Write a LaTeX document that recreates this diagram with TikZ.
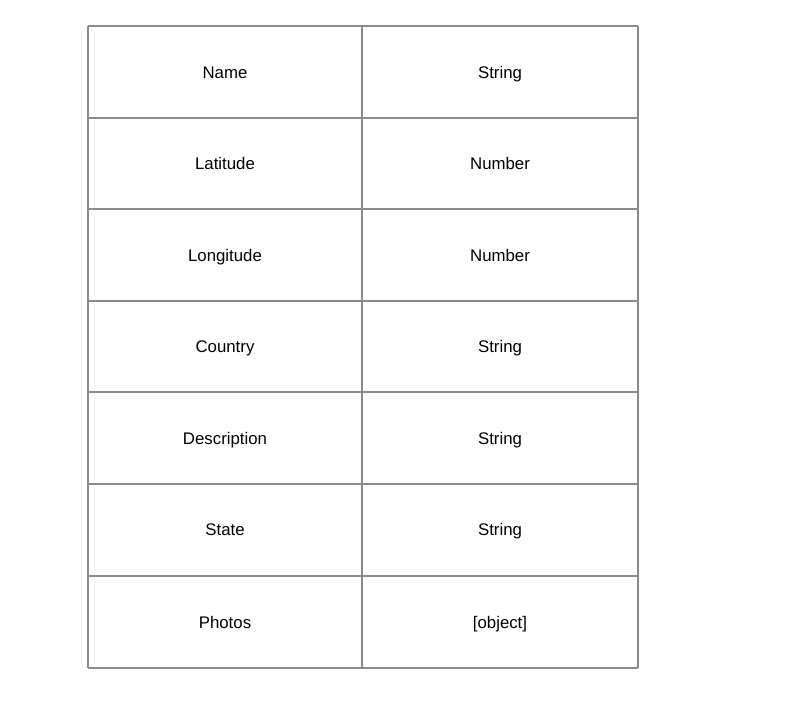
\documentclass[tikz,border=0pt]{standalone}
\usepackage{fontspec}
\setmainfont{Liberation Sans}
\begin{document}
\begin{tikzpicture}[x=1pt,y=-1pt,
  grid/.style={draw=black!45,line width=1.1pt},
  cell/.style={font=\fontsize{16.8}{20}\selectfont,text=black,inner sep=0pt,anchor=base}]
\useasboundingbox (0,0) rectangle (810,716);
\fill[white] (0,0) rectangle (810,716);
\foreach \y in {26,118,209,301,392,484,576,668}
  \draw[grid] (88,\y) -- (638,\y);
\foreach \x in {88,362,638}
  \draw[grid] (\x,26) -- (\x,668);
\node[cell] (n1) at (225,78) {Name};
\node[cell] (t1) at (500,78) {String};
\node[cell] (n2) at (225,169.5) {Latitude};
\node[cell] (t2) at (500,169.5) {Number};
\node[cell] (n3) at (225,261) {Longitude};
\node[cell] (t3) at (500,261) {Number};
\node[cell] (n4) at (225,352.5) {Country};
\node[cell] (t4) at (500,352.5) {String};
\node[cell] (n5) at (225,444) {Description};
\node[cell] (t5) at (500,444) {String};
\node[cell] (n6) at (225,535.5) {State};
\node[cell] (t6) at (500,535.5) {String};
\node[cell] (n7) at (225,628) {Photos};
\node[cell] (t7) at (500,628) {[object]};
\end{tikzpicture}
\end{document}
